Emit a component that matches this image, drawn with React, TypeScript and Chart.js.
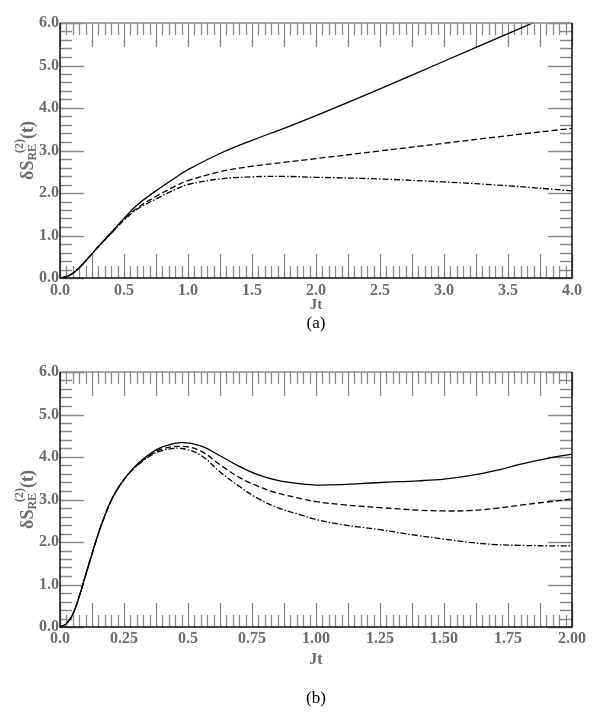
import React, { useEffect, useRef } from 'react';
import { Chart, registerables } from 'chart.js';

Chart.register(...registerables);

// ---------- Panel (a) data ----------
const X_A = [0, 0.05, 0.1, 0.15, 0.2, 0.25, 0.3, 0.4, 0.5, 0.6, 0.75, 0.9, 1.0, 1.25, 1.5, 1.75, 2.0, 2.5, 3.0, 3.5, 4.0];
const SOLID_A = [0, 0.03, 0.11, 0.24, 0.4, 0.57, 0.74, 1.07, 1.4, 1.71, 2.05, 2.36, 2.55, 2.93, 3.24, 3.52, 3.82, 4.45, 5.1, 5.75, 6.4];
const DASHED_A = [0, 0.03, 0.11, 0.24, 0.4, 0.57, 0.74, 1.06, 1.38, 1.64, 1.92, 2.16, 2.29, 2.5, 2.63, 2.72, 2.81, 2.99, 3.17, 3.35, 3.52];
const DASHDOT_A = [0, 0.03, 0.11, 0.24, 0.4, 0.57, 0.74, 1.05, 1.36, 1.61, 1.86, 2.08, 2.2, 2.33, 2.38, 2.39, 2.37, 2.33, 2.26, 2.17, 2.05];

// ---------- Panel (b) data ----------
const X_B = [0, 0.025, 0.05, 0.075, 0.1, 0.125, 0.15, 0.175, 0.2, 0.225, 0.25, 0.275, 0.3, 0.35, 0.4, 0.475, 0.55, 0.625, 0.7, 0.775, 0.85, 0.95, 1.0, 1.1, 1.25, 1.4, 1.5, 1.6, 1.7, 1.8, 1.9, 2.0];
const SOLID_B = [0, 0.08, 0.3, 0.72, 1.22, 1.72, 2.2, 2.62, 2.98, 3.25, 3.47, 3.66, 3.82, 4.07, 4.24, 4.34, 4.26, 4.03, 3.78, 3.58, 3.45, 3.36, 3.34, 3.35, 3.4, 3.44, 3.48, 3.56, 3.68, 3.83, 3.96, 4.07];
const DASHED_B = [0, 0.08, 0.3, 0.72, 1.22, 1.72, 2.2, 2.62, 2.98, 3.25, 3.47, 3.65, 3.8, 4.04, 4.19, 4.25, 4.14, 3.82, 3.52, 3.31, 3.15, 3.01, 2.95, 2.88, 2.81, 2.75, 2.73, 2.74, 2.79, 2.87, 2.94, 3.01];
const DASHDOT_B = [0, 0.08, 0.3, 0.72, 1.22, 1.72, 2.2, 2.62, 2.98, 3.25, 3.47, 3.65, 3.79, 4.02, 4.15, 4.2, 4.04, 3.65, 3.31, 3.02, 2.81, 2.62, 2.53, 2.41, 2.29, 2.15, 2.07, 1.99, 1.94, 1.92, 1.91, 1.91];

// ---------- Tick labels ----------
const XTICK_LABELS_A = ['0.0', '0.5', '1.0', '1.5', '2.0', '2.5', '3.0', '3.5', '4.0'];
const XTICK_LABELS_B = ['0.0', '0.25', '0.5', '0.75', '1.00', '1.25', '1.50', '1.75', '2.00'];
const YTICK_LABELS = ['0.0', '1.0', '2.0', '3.0', '4.0', '5.0', '6.0'];

const X_TITLE = 'Jt';
const CAPTION_A = '(a)';
const CAPTION_B = '(b)';

const TICK_COLOR = '#8a8a8a';
const LABEL_COLOR = '#6b6b6b';
const SERIF = '"Liberation Serif", "Times New Roman", serif';

function drawYTitle(ctx: CanvasRenderingContext2D, cx: number, cy: number) {
  const big = `bold 18px ${SERIF}`;
  const small = `bold 12px ${SERIF}`;
  ctx.save();
  ctx.translate(cx, cy);
  ctx.rotate(-Math.PI / 2);
  ctx.fillStyle = LABEL_COLOR;
  ctx.textBaseline = 'alphabetic';
  ctx.textAlign = 'left';
  ctx.font = big;
  const w1 = ctx.measureText('δS').width;
  const w4 = ctx.measureText('(t)').width;
  ctx.font = small;
  const w2 = ctx.measureText('RE').width;
  const w3 = ctx.measureText('(2)').width;
  const supStart = w2 * 0.45;
  const mid = Math.max(w2, supStart + w3);
  const total = w1 + mid + w4;
  let x = -total / 2;
  const base = 6;
  ctx.font = big;
  ctx.fillText('δS', x, base);
  x += w1;
  ctx.font = small;
  ctx.fillText('RE', x, base + 3);
  ctx.fillText('(2)', x + supStart, base - 10);
  x += mid;
  ctx.font = big;
  ctx.fillText('(t)', x, base);
  ctx.restore();
}

const decorPlugin = {
  id: 'decor',
  beforeDatasetsDraw(chart: any, _args: any, opts: any) {
    const { ctx, chartArea: a, scales } = chart;
    const x = scales.x;
    const y = scales.y;
    ctx.save();
    ctx.strokeStyle = TICK_COLOR;
    ctx.lineWidth = 1.3;
    ctx.beginPath();
    const nx = Math.round((opts.xMax - opts.xMin) / opts.xMinor);
    const rx = Math.round(opts.xMajor / opts.xMinor);
    for (let i = 0; i <= nx; i++) {
      const v = opts.xMin + i * opts.xMinor;
      const px = Math.round(x.getPixelForValue(v)) + 0.5;
      const len = i % rx === 0 ? 24 : 12;
      ctx.moveTo(px, a.bottom);
      ctx.lineTo(px, a.bottom - len);
      ctx.moveTo(px, a.top);
      ctx.lineTo(px, a.top + len);
    }
    const ny = Math.round((opts.yMax - opts.yMin) / opts.yMinor);
    const ry = Math.round(opts.yMajor / opts.yMinor);
    for (let i = 0; i <= ny; i++) {
      const v = opts.yMin + i * opts.yMinor;
      const py = Math.round(y.getPixelForValue(v)) + 0.5;
      const len = i % ry === 0 ? 24 : 12;
      ctx.moveTo(a.left, py);
      ctx.lineTo(a.left + len, py);
      ctx.moveTo(a.right, py);
      ctx.lineTo(a.right - len, py);
    }
    ctx.stroke();
    ctx.restore();
  },
  afterDraw(chart: any, _args: any, opts: any) {
    const { ctx, chartArea: a } = chart;
    ctx.save();
    ctx.lineWidth = 1.5;
    ctx.strokeStyle = TICK_COLOR;
    ctx.beginPath();
    ctx.moveTo(a.left, a.top);
    ctx.lineTo(a.right, a.top);
    ctx.stroke();
    ctx.strokeStyle = '#111';
    ctx.beginPath();
    ctx.moveTo(a.left, a.top);
    ctx.lineTo(a.left, a.bottom);
    ctx.lineTo(a.right, a.bottom);
    ctx.lineTo(a.right, a.top);
    ctx.stroke();
    const cx = (a.left + a.right) / 2;
    ctx.fillStyle = LABEL_COLOR;
    ctx.font = `bold ${opts.titleSize}px ${SERIF}`;
    ctx.textAlign = 'center';
    ctx.textBaseline = 'alphabetic';
    ctx.fillText(X_TITLE, cx, a.bottom + opts.titleDy);
    ctx.fillStyle = '#000';
    ctx.font = `17px ${SERIF}`;
    ctx.textBaseline = 'middle';
    ctx.fillText(opts.caption, cx, a.bottom + opts.captionDy);
    drawYTitle(ctx, 27, (a.top + a.bottom) / 2);
    ctx.restore();
  },
};

type PanelProps = {
  xs: number[];
  solid: number[];
  dashed: number[];
  dashdot: number[];
  xMax: number;
  xStep: number;
  xLabels: string[];
  xMinor: number;
  xMajor: number;
  height: number;
  labelPad: number;
  titleDy: number;
  titleSize: number;
  caption: string;
  captionDy: number;
  top: number;
};

function Panel(p: PanelProps) {
  const ref = useRef<HTMLCanvasElement | null>(null);
  useEffect(() => {
    if (!ref.current) return;
    const mk = (ys: number[]) => p.xs.map((x, i) => ({ x, y: ys[i] }));
    const base = {
      borderColor: '#000',
      borderWidth: 1.3,
      pointRadius: 0,
      fill: false,
      tension: 0.4,
    };
    const chart = new Chart(ref.current, {
      type: 'line',
      data: {
        datasets: [
          { ...base, label: 'solid', data: mk(p.solid) },
          { ...base, label: 'dashed', data: mk(p.dashed), borderDash: [6, 3] },
          { ...base, label: 'dashdot', data: mk(p.dashdot), borderDash: [6, 2, 1.5, 2] },
        ],
      },
      options: {
        animation: false,
        responsive: false,
        layout: { padding: { left: 0, top: 23, right: 27, bottom: 0 } },
        plugins: {
          legend: { display: false },
          tooltip: { enabled: false },
          decor: {
            xMin: 0,
            xMax: p.xMax,
            xMinor: p.xMinor,
            xMajor: p.xMajor,
            yMin: 0,
            yMax: 6,
            yMinor: 0.2,
            yMajor: 1,
            titleDy: p.titleDy,
            titleSize: p.titleSize,
            caption: p.caption,
            captionDy: p.captionDy,
          },
        } as any,
        scales: {
          x: {
            type: 'linear',
            min: 0,
            max: p.xMax,
            grid: { display: false, drawTicks: false },
            border: { display: false },
            afterFit: (s: any) => {
              s.height = p.height - 23 - 255;
            },
            ticks: {
              stepSize: p.xStep,
              padding: p.labelPad,
              maxRotation: 0,
              autoSkip: false,
              color: LABEL_COLOR,
              font: { family: SERIF, weight: 'bold', size: 16 },
              callback: (v: any) => p.xLabels[Math.round(Number(v) / p.xStep)] ?? '',
            },
          },
          y: {
            type: 'linear',
            min: 0,
            max: 6,
            grid: { display: false, drawTicks: false },
            border: { display: false },
            afterFit: (s: any) => {
              s.width = 60;
            },
            ticks: {
              stepSize: 1,
              padding: 1,
              autoSkip: false,
              color: LABEL_COLOR,
              font: { family: SERIF, weight: 'bold', size: 16 },
              callback: (v: any) => YTICK_LABELS[Math.round(Number(v))] ?? '',
            },
          },
        },
      },
      plugins: [decorPlugin as any],
    });
    return () => chart.destroy();
  }, []);
  return (
    <canvas
      ref={ref}
      width={599}
      height={p.height}
      style={{ position: 'absolute', left: 0, top: p.top, width: 599, height: p.height }}
    />
  );
}

export default function App() {
  return (
    <div style={{ position: 'absolute', left: 0, top: 0, width: 599, height: 715, background: '#fff', overflow: 'hidden' }}>
      <Panel
        xs={X_A}
        solid={SOLID_A}
        dashed={DASHED_A}
        dashdot={DASHDOT_A}
        xMax={4}
        xStep={0.5}
        xLabels={XTICK_LABELS_A}
        xMinor={0.05}
        xMajor={0.25}
        height={340}
        labelPad={3}
        titleDy={31}
        titleSize={15}
        caption={CAPTION_A}
        captionDy={46}
        top={0}
      />
      <Panel
        xs={X_B}
        solid={SOLID_B}
        dashed={DASHED_B}
        dashdot={DASHDOT_B}
        xMax={2}
        xStep={0.25}
        xLabels={XTICK_LABELS_B}
        xMinor={0.025}
        xMajor={0.125}
        height={366}
        labelPad={2}
        titleDy={37}
        titleSize={16}
        caption={CAPTION_B}
        captionDy={72}
        top={349}
      />
    </div>
  );
}
